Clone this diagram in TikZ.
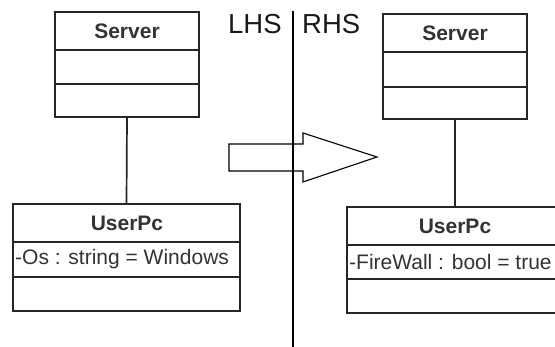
\documentclass[tikz,border=0pt]{standalone}
\usepackage{fontspec}
\setmainfont{Liberation Sans}
\begin{document}
\begin{tikzpicture}[x=1pt,y=-1pt,
  box/.style={draw=black!85,line width=1.7pt,inner sep=0pt,outer sep=0pt,rectangle},
  divider/.style={draw=black!85,line width=1.6pt},
  title/.style={font=\fontsize{21}{24}\selectfont\bfseries,text=black!80,inner sep=0pt},
  attr/.style={font=\fontsize{21}{24}\selectfont,text=black!80,inner sep=0pt,anchor=west},
  side/.style={font=\fontsize{27.5}{30}\selectfont,text=black!90,inner sep=0pt},
  link/.style={draw=black!85,line width=1.7pt},
  bigarrow/.style={draw=black,line width=1.1pt}]
\clip (0,0) rectangle (555,347);
\fill[white] (0,0) rectangle (555,347);
% LHS Server
\node[box,minimum width=144pt,minimum height=105pt] (ls) at (127,64.5) {};
\draw[divider] (55,50) -- (199,50);
\draw[divider] (55,84) -- (199,84);
\node[title] (lst) at (127,31) {Server};
% LHS UserPc
\node[box,minimum width=227pt,minimum height=107pt] (lu) at (126.5,257.5) {};
\draw[divider] (13,242) -- (240,242);
\draw[divider] (13,277) -- (240,277);
\node[title] (lut) at (127,223) {UserPc};
\node[attr] (lua) at (15,259.5) {-Os : string = Windows};
\draw[link] (ls.south) -- (lu.north);
% RHS Server
\node[box,minimum width=144pt,minimum height=105pt] (rs) at (455,66.5) {};
\draw[divider] (383,52) -- (527,52);
\draw[divider] (383,87) -- (527,87);
\node[title] (rst) at (455,33) {Server};
% RHS UserPc
\node[box,minimum width=216pt,minimum height=106pt] (ru) at (455,260) {};
\draw[divider] (347,245) -- (563,245);
\draw[divider] (347,279) -- (563,279);
\node[title] (rut) at (455,226) {UserPc};
\node[attr] (rua) at (349,262) {-FireWall : bool = true};
\draw[link] (rs.south) -- (ru.north);
% labels and divider
\node[side,anchor=west] (lhs) at (228,24) {LHS};
\node[side,anchor=west] (rhs) at (302,24) {RHS};
\coordinate (vtop) at (293,11);
\coordinate (vbot) at (293,347);
\draw[black,line width=1.3pt] (vtop) -- (vbot);
% transformation arrow
\draw[bigarrow] (229,144) -- (303,144) -- (303,133) -- (377,157) -- (303,182) -- (303,171) -- (229,171) -- cycle;
\end{tikzpicture}
\end{document}
